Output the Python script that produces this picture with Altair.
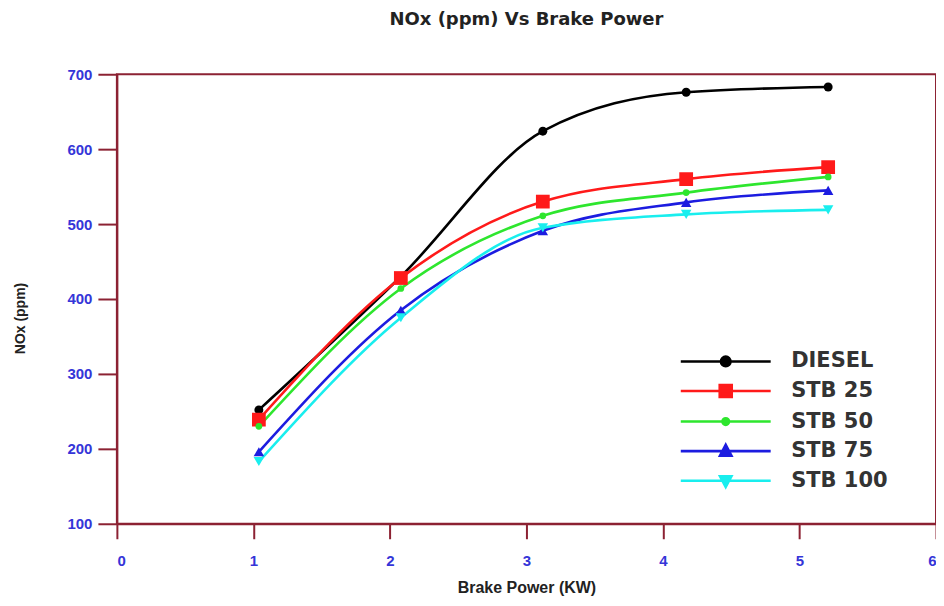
import altair as alt
import pandas as pd

series = ["DIESEL", "STB 25", "STB 50", "STB 75", "STB 100"]
brake_power = [1.04, 2.08, 3.12, 4.17, 5.21]
diesel = [252, 430, 624, 676, 683]
stb25 = [239, 428, 530, 560, 576]
stb50 = [230, 414, 511, 542, 563]
stb75 = [196, 385, 491, 529, 545]
stb100 = [183, 375, 495, 513, 519]
x_ticks = [0, 1, 2, 3, 4, 5, 6]
y_ticks = [100, 200, 300, 400, 500, 600, 700]

colors = ["#000000", "#ff1a1a", "#2ee62e", "#1c1ce0", "#19eeee"]
shapes = ["circle", "square", "circle", "triangle-up", "triangle-down"]
sizes = [80, 190, 45, 110, 110]

LINE = "M-7.5,0H7.5"
legend_paths = [
    LINE + "M-0.8,0A0.8,0.8,0,1,1,0.8,0A0.8,0.8,0,1,1,-0.8,0Z",
    LINE + "M-1.0,-1.0H1.0V1.0H-1.0Z",
    LINE + "M-0.55,0A0.55,0.55,0,1,1,0.55,0A0.55,0.55,0,1,1,-0.55,0Z",
    LINE + "M0,-1.05L0.95,0.75H-0.95Z",
    LINE + "M0,1.05L0.95,-0.75H-0.95Z",
]

values = [diesel, stb25, stb50, stb75, stb100]
rows = []
for s, vals in zip(series, values):
    for bp, v in zip(brake_power, vals):
        rows.append({"Series": s, "BP": bp, "NOx": v})
df = pd.DataFrame(rows)

DARK_RED = "#8c2233"
BLUE = "#3535d8"

x_enc = alt.X("BP:Q", title="Brake Power (KW)",
              scale=alt.Scale(domain=[0, 6], nice=False),
              axis=alt.Axis(values=x_ticks, format="d", tickSize=15, labelPadding=15,
                            titleY=64, titleBaseline="middle",
                            titleFont="Liberation Sans", titleFontSize=16, titleFontWeight="bold"))
y_enc = alt.Y("NOx:Q", title="NOx (ppm)",
              scale=alt.Scale(domain=[100, 700], nice=False),
              axis=alt.Axis(values=y_ticks, tickSize=19, labelPadding=6,
                            titleX=-96, titleY=244, titleBaseline="middle", titleAngle=-90,
                            titleFont="Liberation Sans", titleFontSize=14, titleFontWeight="bold"))

base = alt.Chart(df)

lines = base.mark_line(interpolate="monotone", strokeWidth=2.6).encode(
    x=x_enc, y=y_enc,
    color=alt.Color("Series:N", scale=alt.Scale(domain=series, range=colors), legend=None),
    detail="Series:N",
)

point_layers = []
for s, c, shp, sz in zip(series, colors, shapes, sizes):
    point_layers.append(
        base.transform_filter(alt.datum.Series == s).mark_point(
            filled=True, opacity=1, shape=shp, size=sz, color=c
        ).encode(x="BP:Q", y="NOx:Q")
    )


def by_series(items):
    expr = "'" + items[-1] + "'"
    for s, v in reversed(list(zip(series[:-1], items[:-1]))):
        expr = f"datum.value === '{s}' ? '{v}' : ({expr})"
    return expr


# per-entry legend symbol: a short line with the series marker on it
shape_expr = by_series(legend_paths)
color_expr = by_series(colors)

legend_layer = base.transform_filter("false").mark_point(filled=True, size=144, opacity=1).encode(
    x="BP:Q", y="NOx:Q",
    color=alt.Color(
        "Series:N", scale=alt.Scale(domain=series, range=colors), title=None,
        legend=alt.Legend(
            orient="none", legendX=599, legendY=277,
            symbolType={"expr": shape_expr},
            symbolStrokeColor={"expr": color_expr},
            symbolFillColor={"expr": color_expr},
            symbolSize=144, symbolStrokeWidth=2.6, symbolOpacity=1,
            labelFont="DejaVu Sans", labelFontSize=21,
            labelFontWeight="bold", labelColor="#333333",
            labelOffset=55, rowPadding=7.6, padding=0,
        ),
    ),
)

chart = alt.layer(lines, *point_layers, legend_layer).resolve_scale(
    color="independent"
).properties(
    width=820, height=450,
    title=alt.Title("NOx (ppm) Vs Brake Power", font="DejaVu Sans", fontSize=18,
                    fontWeight="bold", color="#222222", offset=38, anchor="middle"),
    autosize=alt.AutoSizeParams(type="none"),
    padding={"left": 109, "top": 66, "right": 0, "bottom": 72},
).configure_view(
    stroke=DARK_RED, strokeWidth=2
).configure_axis(
    grid=False, domainColor=DARK_RED, domainWidth=2, tickColor=DARK_RED, tickWidth=2,
    labelColor=BLUE, labelFont="Liberation Sans", labelFontSize=15, labelFontWeight="bold",
    titleColor="#222222",
)

chart.save("out.html", embed_options={"renderer": "svg", "actions": False})
